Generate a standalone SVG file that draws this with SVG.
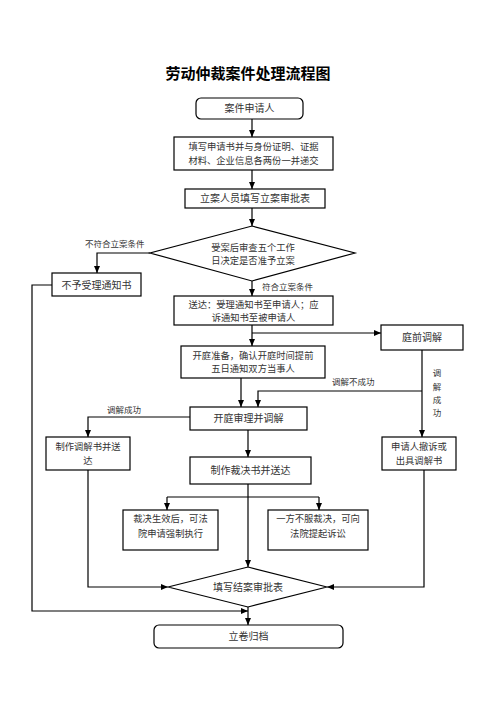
<svg xmlns="http://www.w3.org/2000/svg" width="496" height="702" viewBox="0 0 496 702">
<style>
.box{fill:#fff;stroke:#000;stroke-width:1.2}
.t{font-family:"Noto Sans CJK SC","Liberation Serif",serif;font-size:10px;fill:#333;text-anchor:middle}
.t2{font-family:"Noto Sans CJK SC","Liberation Serif",serif;font-size:9.3px;fill:#333;text-anchor:middle}
.s{font-family:"Noto Sans CJK SC","Liberation Serif",serif;font-size:8.5px;fill:#333}
.title{font-family:"Noto Sans CJK SC","Liberation Sans",sans-serif;font-size:15px;font-weight:bold;fill:#000;text-anchor:middle}
.c{fill:none;stroke:#000;stroke-width:1.2}
</style>
<defs>
<marker id="ar" markerUnits="userSpaceOnUse" markerWidth="7" markerHeight="6" refX="7" refY="3" orient="auto">
<path d="M0,0 L7,3 L0,6 z" fill="#000"/>
</marker>
</defs>
<rect width="496" height="702" fill="#fff"/>
<text class="title" x="248" y="79">劳动仲裁案件处理流程图</text>

<g id="connectors">
<path class="c" d="M252,119 V137" marker-end="url(#ar)"/>
<path class="c" d="M252,170 V189" marker-end="url(#ar)"/>
<path class="c" d="M252,208 V226" marker-end="url(#ar)"/>
<path class="c" d="M150,253 H97 V273" marker-end="url(#ar)"/>
<path class="c" d="M252,281 V296" marker-end="url(#ar)"/>
<path class="c" d="M252,325 V346" marker-end="url(#ar)"/>
<path class="c" d="M252,333 H381" marker-end="url(#ar)"/>
<path class="c" d="M52,285 H32 V611 H248" marker-end="url(#ar)"/>
<path class="c" d="M241,378 V407" marker-end="url(#ar)"/>
<path class="c" d="M422,350 V437" marker-end="url(#ar)"/>
<path class="c" d="M422,391 H258 V407" marker-end="url(#ar)"/>
<path class="c" d="M190,417 H88 V437" marker-end="url(#ar)"/>
<path class="c" d="M248,430 V457" marker-end="url(#ar)"/>
<path class="c" d="M248,484 V567" marker-end="url(#ar)"/>
<path class="c" d="M167,497 H319"/>
<path class="c" d="M167,497 V510" marker-end="url(#ar)"/>
<path class="c" d="M319,497 V510" marker-end="url(#ar)"/>
<path class="c" d="M88,470 V587 H168" marker-end="url(#ar)"/>
<path class="c" d="M424,470 V587 H327" marker-end="url(#ar)"/>
<path class="c" d="M248,607 V625" marker-end="url(#ar)"/>
<text class="s" x="85" y="247">不符合立案条件</text>
<text class="s" x="262" y="290">符合立案条件</text>
<text class="s" x="332" y="385">调解不成功</text>
<text class="s" x="107" y="413">调解成功</text>
<text class="s" x="437" y="376" text-anchor="middle">调</text>
<text class="s" x="437" y="390" text-anchor="middle">解</text>
<text class="s" x="437" y="403" text-anchor="middle">成</text>
<text class="s" x="437" y="416" text-anchor="middle">功</text>
</g>

<g id="n1"><rect class="box" x="196" y="98" width="107" height="21" rx="5"/><text class="t" x="249.5" y="112">案件申请人</text></g>
<g id="n2"><rect class="box" x="174" y="137" width="159" height="33"/><text class="t2" x="253.5" y="150">填写申请书并与身份证明、证据</text><text class="t2" x="253.5" y="163.5">材料、企业信息各两份一并递交</text></g>
<g id="n3"><rect class="box" x="185" y="189" width="140" height="19"/><text class="t" x="255" y="202">立案人员填写立案审批表</text></g>
<g id="n4"><polygon class="box" points="252,226 355,253 252,281 150,253"/><text class="t2" x="253" y="250.5">受案后审查五个工作</text><text class="t2" x="253" y="264">日决定是否准予立案</text></g>
<g id="n5"><rect class="box" x="52" y="273" width="89" height="23"/><text class="t" x="96.5" y="288.5">不予受理通知书</text></g>
<g id="n6"><rect class="box" x="174" y="296" width="159" height="29"/><text class="t2" x="253.5" y="307.5">送达：受理通知书至申请人；应</text><text class="t2" x="253.5" y="321">诉通知书至被申请人</text></g>
<g id="n7"><rect class="box" x="381" y="325" width="82" height="25"/><text class="t" x="422" y="341">庭前调解</text></g>
<g id="n8"><rect class="box" x="181" y="346" width="144" height="32"/><text class="t2" x="253" y="358.5">开庭准备，确认开庭时间提前</text><text class="t2" x="253" y="372">五日通知双方当事人</text></g>
<g id="n9"><rect class="box" x="190" y="407" width="117" height="23"/><text class="t" x="248.5" y="421.5">开庭审理并调解</text></g>
<g id="n10"><rect class="box" x="46" y="437" width="84" height="33"/><text class="t2" x="88" y="450">制作调解书并送</text><text class="t2" x="88" y="463.5">达</text></g>
<g id="n11"><rect class="box" x="382" y="437" width="74" height="33"/><text class="t2" x="419" y="450">申请人撤诉或</text><text class="t2" x="419" y="463.5">出具调解书</text></g>
<g id="n12"><rect class="box" x="190" y="457" width="121" height="27"/><text class="t" x="250.5" y="473.5">制作裁决书并送达</text></g>
<g id="n13"><rect class="box" x="123" y="510" width="95" height="40"/><text class="t2" x="170.5" y="522">裁决生效后，可法</text><text class="t2" x="170.5" y="537">院申请强制执行</text></g>
<g id="n14"><rect class="box" x="268" y="510" width="100" height="40"/><text class="t2" x="318" y="522">一方不服裁决，可向</text><text class="t2" x="318" y="537">法院提起诉讼</text></g>
<g id="n15"><polygon class="box" points="248,567 327,587 248,607 168,587"/><text class="t" x="248" y="590.5">填写结案审批表</text></g>
<g id="n16"><rect class="box" x="154" y="625" width="189" height="23" rx="5"/><text class="t" x="248.5" y="640">立卷归档</text></g>
</svg>
